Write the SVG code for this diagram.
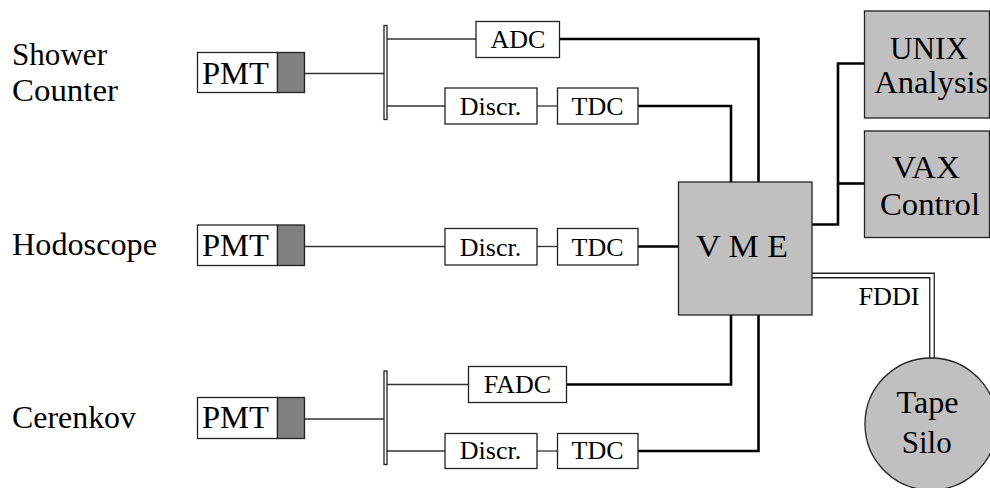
<svg xmlns="http://www.w3.org/2000/svg" width="990" height="488" viewBox="0 0 990 488">
<style>
  text { font-family: 'Liberation Serif', 'Times New Roman', 'DejaVu Serif', serif; fill: #000; }
  .big { font-size: 31px; }
  .sm { font-size: 26px; text-anchor: middle; }
  .mid { text-anchor: middle; }
  .box { fill: #fff; stroke: #222; stroke-width: 1.3; }
  .gbox { fill: #c0c0c0; stroke: #222; stroke-width: 1.3; }
  .dark { fill: #808080; stroke: #222; stroke-width: 1.3; }
  .thin { fill: none; stroke: #333; stroke-width: 1.3; }
  .thick { fill: none; stroke: #000; stroke-width: 2.6; }
</style>
<rect width="990" height="488" fill="#fff"/>

<g id="labels">
  <text class="big" x="12" y="65" textLength="95" lengthAdjust="spacingAndGlyphs">Shower</text>
  <text class="big" x="12" y="101" textLength="106" lengthAdjust="spacingAndGlyphs">Counter</text>
  <text class="big" x="12" y="255" textLength="145" lengthAdjust="spacingAndGlyphs">Hodoscope</text>
  <text class="big" x="12" y="428" textLength="124" lengthAdjust="spacingAndGlyphs">Cerenkov</text>
</g>

<g id="connectors">
  <path class="thin" d="M304.5 73.5 H384"/>
  <path class="thin" d="M387 39 H476"/>
  <path class="thin" d="M387 106 H445"/>
  <path class="thin" d="M537 106 H557.5"/>
  <path class="thin" d="M304.5 246.5 H445"/>
  <path class="thin" d="M537 246.5 H557.5"/>
  <path class="thin" d="M304.5 419 H384"/>
  <path class="thin" d="M387 384.5 H468.5"/>
  <path class="thin" d="M387 451 H445"/>
  <path class="thin" d="M537 451 H557.5"/>
  <path class="thick" d="M559.5 39 H758.5 V182"/>
  <path class="thick" d="M638 106 H731 V182"/>
  <path class="thick" d="M638 246.5 H678.5"/>
  <path class="thick" d="M567 384.5 H731 V315"/>
  <path class="thick" d="M638 451 H758.5 V315"/>
  <path class="thick" d="M812 224.5 H838 V63.5 H864.5"/>
  <path class="thick" d="M838 183.5 H864.5"/>
  <path d="M812 275.5 H932 V359" fill="none" stroke="#222" stroke-width="5.8"/>
  <path d="M811 275.5 H932 V360" fill="none" stroke="#fff" stroke-width="3.2"/>
  <text class="sm" x="889" y="305" textLength="61" lengthAdjust="spacingAndGlyphs">FDDI</text>
</g>

<g id="pmt1">
  <rect class="box" x="197.5" y="52.5" width="80" height="40"/>
  <rect class="dark" x="277.5" y="52.5" width="27" height="40"/>
  <text class="big" x="202" y="83.5" textLength="67" lengthAdjust="spacingAndGlyphs">PMT</text>
</g>
<g id="pmt2">
  <rect class="box" x="197.5" y="225" width="80" height="40.5"/>
  <rect class="dark" x="277.5" y="225" width="27" height="40.5"/>
  <text class="big" x="202" y="255.7" textLength="67" lengthAdjust="spacingAndGlyphs">PMT</text>
</g>
<g id="pmt3">
  <rect class="box" x="197.5" y="397.5" width="80" height="41"/>
  <rect class="dark" x="277.5" y="397.5" width="27" height="41"/>
  <text class="big" x="202" y="428.3" textLength="67" lengthAdjust="spacingAndGlyphs">PMT</text>
</g>

<g id="splitter1"><rect class="box" x="384" y="25.5" width="3" height="94"/></g>
<g id="splitter3"><rect class="box" x="384" y="371" width="3" height="93.5"/></g>

<g id="adc">
  <rect class="box" x="476" y="21.5" width="83.5" height="36"/>
  <text class="sm" x="518" y="48.3">ADC</text>
</g>
<g id="discr1">
  <rect class="box" x="445" y="88" width="92" height="36"/>
  <text class="sm" x="490.5" y="115">Discr.</text>
</g>
<g id="tdc1">
  <rect class="box" x="557.5" y="88" width="80.5" height="36"/>
  <text class="sm" x="597.5" y="115">TDC</text>
</g>
<g id="discr2">
  <rect class="box" x="445" y="228.5" width="92" height="36.5"/>
  <text class="sm" x="490.5" y="255.5">Discr.</text>
</g>
<g id="tdc2">
  <rect class="box" x="557.5" y="228.5" width="80.5" height="36.5"/>
  <text class="sm" x="597.5" y="255.5">TDC</text>
</g>
<g id="fadc">
  <rect class="box" x="468.5" y="366.5" width="98" height="36"/>
  <text class="sm" x="517.5" y="393.3">FADC</text>
</g>
<g id="discr3">
  <rect class="box" x="445" y="433.5" width="92" height="35"/>
  <text class="sm" x="490.5" y="459">Discr.</text>
</g>
<g id="tdc3">
  <rect class="box" x="557.5" y="433.5" width="80.5" height="35"/>
  <text class="sm" x="597.5" y="459">TDC</text>
</g>

<g id="vme">
  <rect class="gbox" x="678.5" y="182" width="133.5" height="133"/>
  <text class="big mid" x="742" y="257.3" textLength="92" lengthAdjust="spacingAndGlyphs">V M E</text>
</g>
<g id="unix">
  <rect class="gbox" x="864.5" y="11" width="125" height="107"/>
  <text class="big mid" x="929" y="59.3" textLength="78" lengthAdjust="spacingAndGlyphs">UNIX</text>
  <text class="big mid" x="931.3" y="93" textLength="114" lengthAdjust="spacingAndGlyphs">Analysis</text>
</g>
<g id="vax">
  <rect class="gbox" x="864.5" y="131" width="125" height="106.5"/>
  <text class="big mid" x="926" y="178" textLength="68" lengthAdjust="spacingAndGlyphs">VAX</text>
  <text class="big mid" x="930" y="215" textLength="100" lengthAdjust="spacingAndGlyphs">Control</text>
</g>
<g id="tapesilo">
  <circle class="gbox" cx="931" cy="424" r="66"/>
  <text class="big mid" x="927.5" y="413" textLength="62" lengthAdjust="spacingAndGlyphs">Tape</text>
  <text class="big mid" x="926.7" y="453">Silo</text>
</g>
</svg>
